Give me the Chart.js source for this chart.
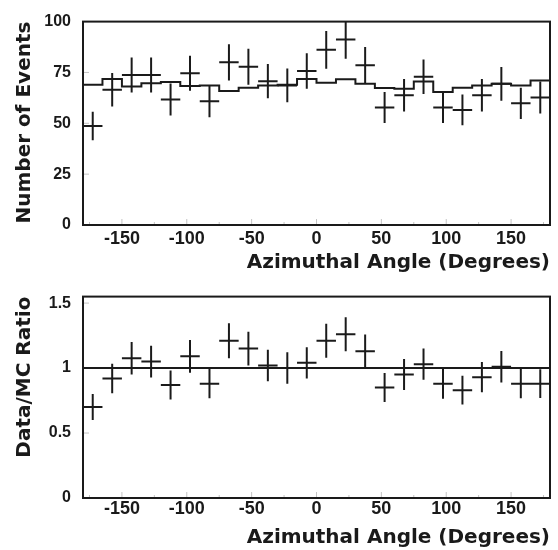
<!DOCTYPE html>
<html><head><meta charset="utf-8">
<script src="https://cdn.jsdelivr.net/npm/chart.js@4.4.1/dist/chart.umd.min.js"></script>
<style>
html,body{margin:0;padding:0;background:#fff;}
#wrap{position:relative;width:558px;height:550px;background:#fff;}
.pane{position:absolute;left:0;width:558px;height:275px;}
</style></head><body>
<div id="wrap">
<div class="pane" style="top:0"><canvas id="topChart" width="558" height="275"></canvas></div>
<div class="pane" style="top:275px"><canvas id="bottomChart" width="558" height="275"></canvas></div>
</div>
<script>
// ---- data ----
const angleBins = [-172.5,-157.5,-142.5,-127.5,-112.5,-97.5,-82.5,-67.5,-52.5,-37.5,-22.5,-7.5,
                   7.5,22.5,37.5,52.5,67.5,82.5,97.5,112.5,127.5,142.5,157.5,172.5];
const binHalfWidth = 7.5;
const eventCounts = [48.7,66.5,73.8,73.8,61.7,74.6,60.8,80.0,77.8,70.7,68.6,75.7,
                     86.1,91.2,78.6,57.8,63.8,72.9,57.8,56.6,63.8,69.4,59.8,62.7];
const eventErrors = [7.0,8.2,8.6,8.6,7.9,8.6,7.8,8.9,8.8,8.4,8.3,8.7,
                     9.3,9.5,8.9,7.6,8.0,8.5,7.6,7.5,8.0,8.3,7.7,7.9];
const mcCounts = [69.0,71.8,68.1,69.7,70.3,68.3,68.6,65.9,67.5,68.6,68.9,71.8,
                  69.9,71.6,69.4,67.3,67.0,70.5,65.4,67.5,68.6,69.4,68.6,71.0];
const ratioValues = [0.70,0.92,1.075,1.05,0.87,1.09,0.88,1.21,1.15,1.02,1.00,1.04,
                     1.21,1.26,1.13,0.85,0.95,1.03,0.88,0.83,0.93,1.01,0.88,0.88];
const ratioErrors = [0.100,0.113,0.125,0.122,0.111,0.126,0.113,0.135,0.130,0.121,0.121,0.120,
                     0.131,0.131,0.128,0.112,0.119,0.120,0.116,0.110,0.117,0.121,0.113,0.111];
const ratioReference = 1;
const angleMin = -180, angleMax = 180;
const xTicks = [-150,-100,-50,0,50,100,150];
const xMinorTicks = [-175,-125,-75,-25,25,75,125,175];
const eventTicks = [0,25,50,75,100];
const ratioTicks = [0,0.5,1,1.5];
const xTitle = 'Azimuthal Angle (Degrees)';
const eventTitle = 'Number of Events';
const ratioTitle = 'Data/MC Ratio';

// ---- helpers building datasets from the arrays ----
function hBars(vals){ const d=[]; angleBins.forEach((c,i)=>{d.push({x:c-binHalfWidth,y:vals[i]},{x:c+binHalfWidth,y:vals[i]},{x:c,y:null});}); return d; }
function vBars(vals,errs){ const d=[]; angleBins.forEach((c,i)=>{d.push({x:c,y:vals[i]-errs[i]},{x:c,y:vals[i]+errs[i]},{x:c,y:null});}); return d; }
function steps(vals){ const d=[]; angleBins.forEach((c,i)=>{d.push({x:c-binHalfWidth,y:vals[i]},{x:c+binHalfWidth,y:vals[i]});}); return d; }

const INK = '#1a1a1a';
const lineDs = (data, w) => ({data, showLine:true, spanGaps:false, borderColor:INK, borderWidth:w, pointRadius:0, pointHoverRadius:0, fill:false, tension:0});

const framePlugin = {
  id:'frame',
  beforeDatasetsDraw(chart, args, opts){
    const {ctx, chartArea:a, scales:{x,y}} = chart;
    ctx.save();
    ctx.strokeStyle='#c4c4c4'; ctx.lineWidth=1;
    ctx.beginPath();
    xTicks.forEach(v=>{const p=x.getPixelForValue(v); ctx.moveTo(p,a.bottom); ctx.lineTo(p,a.bottom-6);});
    xMinorTicks.forEach(v=>{const p=x.getPixelForValue(v); ctx.moveTo(p,a.bottom); ctx.lineTo(p,a.bottom-3);});
    opts.yTicks.forEach(v=>{const p=y.getPixelForValue(v); ctx.moveTo(a.left,p); ctx.lineTo(a.left+6,p);});
    ctx.stroke();
    ctx.restore();
  },
  afterDatasetsDraw(chart){
    const {ctx, chartArea:a} = chart;
    ctx.save();
    ctx.strokeStyle=INK; ctx.lineWidth=2;
    ctx.strokeRect(a.left, a.top, a.right-a.left, a.bottom-a.top);
    ctx.restore();
  }
};

function makePanel(id, p){
  return new Chart(document.getElementById(id), {
    type:'scatter',
    data:{datasets:p.datasets},
    plugins:[framePlugin],
    options:{
      responsive:false, animation:false, events:[],
      layout:{padding:{left:0,right:8,top:p.top,bottom:0}},
      plugins:{legend:{display:false}, tooltip:{enabled:false}, frame:{yTicks:p.yTicks}},
      scales:{
        x:{type:'linear', min:angleMin, max:angleMax,
           grid:{display:false, drawTicks:false}, border:{display:false},
           afterBuildTicks:s=>{s.ticks=xTicks.map(v=>({value:v}));},
           afterFit:s=>{s.height=p.xHeight;},
           ticks:{padding:p.xTickPad, color:INK, maxRotation:0, autoSkip:false,
                  font:{family:'"Liberation Sans", Arial, sans-serif', weight:'bold', size:18},
                  callback:v=>String(v)},
           title:{display:true, text:xTitle, align:'end', color:INK, padding:{top:p.xTitlePad,bottom:0},
                  font:{family:'"DejaVu Sans", sans-serif', weight:'bold', size:20}}},
        y:{type:'linear', min:p.yMin, max:p.yMax,
           grid:{display:false, drawTicks:false}, border:{display:false},
           afterBuildTicks:s=>{s.ticks=p.yTicks.map(v=>({value:v}));},
           afterFit:s=>{s.width=83;},
           ticks:{padding:12, color:INK, autoSkip:false,
                  font:{family:'"Liberation Sans", Arial, sans-serif', weight:'bold', size:16},
                  callback:v=>String(v)},
           title:{display:true, text:p.yTitle, align:'end', color:INK, padding:{top:13,bottom:0},
                  font:{family:'"DejaVu Sans", sans-serif', weight:'bold', size:20}}}
      }
    }
  });
}

makePanel('topChart', {
  top:15, xHeight:50, xTickPad:3, xTitlePad:1,
  yMin:0, yMax:100, yTicks:eventTicks, yTitle:eventTitle,
  datasets:[
    lineDs(steps(mcCounts), 2),
    lineDs(hBars(eventCounts), 2),
    lineDs(vBars(eventCounts, eventErrors), 2)
  ]
});

makePanel('bottomChart', {
  top:11, xHeight:52, xTickPad:0, xTitlePad:6,
  yMin:0, yMax:1.55, yTicks:ratioTicks, yTitle:ratioTitle,
  datasets:[
    lineDs([{x:angleMin,y:ratioReference},{x:angleMax,y:ratioReference}], 2),
    lineDs(hBars(ratioValues), 2),
    lineDs(vBars(ratioValues, ratioErrors), 2)
  ]
});
</script>
</body></html>
